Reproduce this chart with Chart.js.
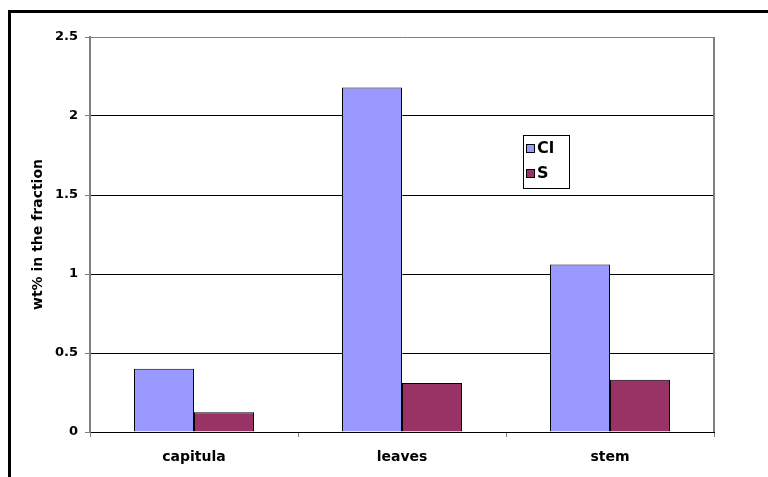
<!DOCTYPE html>
<html><head><meta charset="utf-8">
<script src="https://cdn.jsdelivr.net/npm/chart.js@4/dist/chart.umd.min.js"></script>
<style>html,body{margin:0;padding:0;background:#fff;}#wrap{position:relative;width:768px;height:477px;}</style>
</head><body><div id="wrap"><canvas id="c" width="768" height="477"></canvas></div>
<script>
const categories = ['capitula', 'leaves', 'stem'];
const clValues = [0.40, 2.18, 1.06];
const sValues = [0.125, 0.31, 0.33];
const seriesNames = ['Cl', 'S'];
const yTickValues = [0, 0.5, 1, 1.5, 2, 2.5];

const FONT = "'DejaVu Sans', Arial, sans-serif";

const framePlugin = {
  id: 'frame',
  beforeDraw(chart) {
    const c = chart.ctx;
    c.save();
    c.fillStyle = '#fff';
    c.fillRect(0, 0, chart.width, chart.height);
    c.fillStyle = '#000';
    c.fillRect(8, 10, 3, chart.height - 10);
    c.fillRect(8, 10, chart.width - 8, 3);
    c.restore();
  },
  afterDraw(chart) {
    const c = chart.ctx, a = chart.chartArea;
    c.save();
    c.strokeStyle = '#808080';
    c.lineWidth = 2;
    c.beginPath();
    c.moveTo(a.right, a.top); c.lineTo(a.right, a.bottom);
    c.stroke();
    // legend
    const lx = 523, ly = 135, lw = 46, lh = 53;
    c.fillStyle = '#fff';
    c.fillRect(lx, ly, lw, lh);
    c.strokeStyle = '#000'; c.lineWidth = 1;
    c.strokeRect(lx + 0.5, ly + 0.5, lw, lh);
    const ys = [148, 173];
    chart.data.datasets.forEach((ds, i) => {
      c.fillStyle = ds.backgroundColor;
      c.fillRect(lx + 3, ys[i] - 4, 9, 9);
      c.strokeStyle = '#000';
      c.strokeRect(lx + 3.5, ys[i] - 3.5, 8, 8);
      c.fillStyle = '#000';
      c.font = 'bold 16px ' + FONT;
      c.textBaseline = 'middle';
      c.textAlign = 'left';
      c.fillText(ds.label, lx + 14, ys[i] + 1);
    });
    c.restore();
  }
};

new Chart(document.getElementById('c'), {
  type: 'bar',
  data: {
    labels: categories,
    datasets: [
      { label: seriesNames[0], data: clValues, backgroundColor: '#9999FF', borderColor: '#000', borderWidth: 1 },
      { label: seriesNames[1], data: sValues, backgroundColor: '#993366', borderColor: '#000', borderWidth: 1 }
    ]
  },
  options: {
    responsive: false,
    animation: false,
    devicePixelRatio: 1,
    layout: { padding: { top: 37, right: 54, left: 0, bottom: 0 } },
    datasets: { bar: { categoryPercentage: 0.577, barPercentage: 1.0 } },
    plugins: { legend: { display: false }, tooltip: { enabled: false } },
    scales: {
      x: {
        grid: { display: true, drawOnChartArea: false, tickLength: 5, color: '#808080', offset: true },
        border: { display: true, color: '#000', width: 1 },
        ticks: { font: { family: FONT, size: 14, weight: 'bold' }, color: '#000', padding: 12, maxRotation: 0 },
        afterFit(s) { s.height = 45; }
      },
      y: {
        min: 0, max: 2.5,
        afterBuildTicks(s) { s.ticks = yTickValues.map(v => ({ value: v })); },
        grid: {
          color: (ctx) => (ctx.tick && ctx.tick.value === 2.5) ? '#808080' : '#000',
          tickColor: '#808080', tickLength: 5, lineWidth: 1
        },
        border: { display: true, color: '#808080', width: 2 },
        ticks: { font: { family: FONT, size: 13, weight: 'bold' }, color: '#000', padding: 7,
          callback: (v) => String(v) },
        title: { display: true, text: 'wt% in the fraction', color: '#000',
          font: { family: FONT, size: 14, weight: 'bold' }, padding: { top: 30, bottom: 0 } },
        afterFit(s) { s.width = 90; }
      }
    }
  },
  plugins: [framePlugin]
});
</script>
</body></html>
